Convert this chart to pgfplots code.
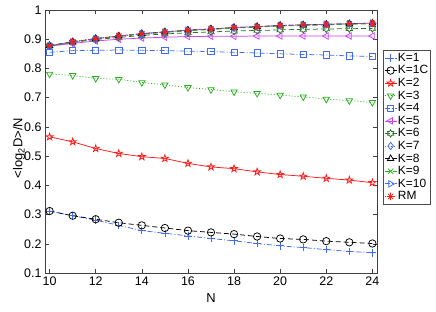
\documentclass[border=0pt]{standalone}
\usepackage{fontspec}
\setmainfont{Liberation Sans}
\usepackage{pgfplots}
\pgfplotsset{compat=1.18}
\usetikzlibrary{plotmarks}
\definecolor{cblue}{rgb}{0.25,0.42,0.95}
\definecolor{cgreen}{rgb}{0.15,0.68,0.1}
\definecolor{cmag}{rgb}{0.8,0.25,1}
\definecolor{cdgreen}{rgb}{0.15,0.45,0.15}
\definecolor{cred}{rgb}{1,0.1,0.1}
\makeatletter
\pgfdeclareplotmark{pentagram}{%
  \pgfpathmoveto{\pgfqpointpolar{90}{\pgfplotmarksize}}%
  \pgfpathlineto{\pgfqpointpolar{126}{0.382\pgfplotmarksize}}%
  \pgfpathlineto{\pgfqpointpolar{162}{\pgfplotmarksize}}%
  \pgfpathlineto{\pgfqpointpolar{198}{0.382\pgfplotmarksize}}%
  \pgfpathlineto{\pgfqpointpolar{234}{\pgfplotmarksize}}%
  \pgfpathlineto{\pgfqpointpolar{270}{0.382\pgfplotmarksize}}%
  \pgfpathlineto{\pgfqpointpolar{306}{\pgfplotmarksize}}%
  \pgfpathlineto{\pgfqpointpolar{342}{0.382\pgfplotmarksize}}%
  \pgfpathlineto{\pgfqpointpolar{18}{\pgfplotmarksize}}%
  \pgfpathlineto{\pgfqpointpolar{54}{0.382\pgfplotmarksize}}%
  \pgfpathclose\pgfusepathqstroke}
\pgfdeclareplotmark{hexagram}{%
  \pgfpathmoveto{\pgfqpointpolar{90}{\pgfplotmarksize}}%
  \pgfpathlineto{\pgfqpointpolar{120}{0.577\pgfplotmarksize}}%
  \pgfpathlineto{\pgfqpointpolar{150}{\pgfplotmarksize}}%
  \pgfpathlineto{\pgfqpointpolar{180}{0.577\pgfplotmarksize}}%
  \pgfpathlineto{\pgfqpointpolar{210}{\pgfplotmarksize}}%
  \pgfpathlineto{\pgfqpointpolar{240}{0.577\pgfplotmarksize}}%
  \pgfpathlineto{\pgfqpointpolar{270}{\pgfplotmarksize}}%
  \pgfpathlineto{\pgfqpointpolar{300}{0.577\pgfplotmarksize}}%
  \pgfpathlineto{\pgfqpointpolar{330}{\pgfplotmarksize}}%
  \pgfpathlineto{\pgfqpointpolar{0}{0.577\pgfplotmarksize}}%
  \pgfpathlineto{\pgfqpointpolar{30}{\pgfplotmarksize}}%
  \pgfpathlineto{\pgfqpointpolar{60}{0.577\pgfplotmarksize}}%
  \pgfpathclose\pgfusepathqstroke}
\pgfdeclareplotmark{star8}{%
  \pgfpathmoveto{\pgfqpoint{-\pgfplotmarksize}{0pt}}\pgfpathlineto{\pgfqpoint{\pgfplotmarksize}{0pt}}%
  \pgfpathmoveto{\pgfqpoint{0pt}{-\pgfplotmarksize}}\pgfpathlineto{\pgfqpoint{0pt}{\pgfplotmarksize}}%
  \pgfpathmoveto{\pgfqpoint{-0.707\pgfplotmarksize}{-0.707\pgfplotmarksize}}\pgfpathlineto{\pgfqpoint{0.707\pgfplotmarksize}{0.707\pgfplotmarksize}}%
  \pgfpathmoveto{\pgfqpoint{-0.707\pgfplotmarksize}{0.707\pgfplotmarksize}}\pgfpathlineto{\pgfqpoint{0.707\pgfplotmarksize}{-0.707\pgfplotmarksize}}%
  \pgfusepathqstroke}
\makeatother
\pgfplotstableread{
N K1 K1C K2 K3 K4 K5 K6 K7 K8 K9 K10 RM
10 0.312 0.312 0.566 0.781 0.855 0.876 0.877 0.878 0.878 0.877 0.878 0.878
11 0.296 0.296 0.549 0.776 0.861 0.886 0.889 0.891 0.891 0.890 0.891 0.891
12 0.281 0.284 0.526 0.766 0.862 0.894 0.899 0.902 0.902 0.901 0.902 0.902
13 0.263 0.272 0.509 0.763 0.863 0.900 0.906 0.911 0.911 0.910 0.911 0.911
14 0.245 0.263 0.498 0.752 0.862 0.904 0.913 0.919 0.919 0.917 0.919 0.919
15 0.236 0.254 0.492 0.744 0.861 0.907 0.918 0.925 0.925 0.923 0.925 0.925
16 0.227 0.245 0.475 0.735 0.859 0.909 0.922 0.931 0.931 0.929 0.931 0.931
17 0.218 0.239 0.463 0.728 0.858 0.910 0.925 0.935 0.935 0.933 0.935 0.935
18 0.210 0.233 0.457 0.720 0.855 0.910 0.928 0.940 0.940 0.938 0.940 0.940
19 0.201 0.225 0.446 0.715 0.853 0.911 0.930 0.943 0.943 0.941 0.943 0.943
20 0.193 0.218 0.437 0.709 0.850 0.911 0.932 0.947 0.947 0.945 0.947 0.947
21 0.187 0.215 0.431 0.703 0.848 0.911 0.934 0.949 0.949 0.947 0.949 0.949
22 0.180 0.209 0.424 0.695 0.846 0.911 0.935 0.951 0.951 0.949 0.951 0.951
23 0.174 0.205 0.418 0.690 0.843 0.911 0.936 0.953 0.953 0.951 0.953 0.953
24 0.169 0.201 0.409 0.684 0.841 0.911 0.937 0.955 0.955 0.953 0.955 0.955
}\data
\tikzset{
  dashdot/.style={dash pattern=on 5bp off 2bp on 1bp off 2bp},
  mdashed/.style={dash pattern=on 5bp off 3bp},
  mdotted/.style={dash pattern=on 1bp off 2bp},
}
\begin{document}
\begin{tikzpicture}
\begin{axis}[
  scale only axis, width=332bp, height=263bp,
  at={(0,0)}, anchor=south west,
  xmin=9.8, xmax=24.2, ymin=0.1, ymax=1,
  xtick={10,12,...,24},
  xticklabels={10,12,14,16,18,20,22,24},
  ytick={0.1,0.2,0.3,0.4,0.5,0.6,0.7,0.8,0.9,1},
  yticklabels={0.1,0.2,0.3,0.4,0.5,0.6,0.7,0.8,0.9,1},
  /pgf/number format/assume math mode=true,
  tick align=inside, tick pos=both,
  major tick length=4bp,
  axis line style={line width=0.6pt, black!75},
  tick style={line width=0.5pt, black!75},
  tick label style={font=\fontsize{12.5}{14}\selectfont},
  label style={font=\fontsize{13}{14}\selectfont},
  xlabel={N},
  ylabel={<log\textsubscript{2}D>/N},
  xlabel style={at={(axis description cs:0.5,-0.095)}, anchor=center},
  ylabel style={at={(axis description cs:-0.078,0.475)}, anchor=center, rotate=0},
  every axis plot/.append style={line width=0.75pt},
  mark size=3.7bp,
  legend style={at={(axis description cs:1.018,0.848)}, anchor=north west,
    font=\fontsize{12}{13}\selectfont, draw=black!70, line width=0.5pt,
    inner xsep=1pt, inner ysep=1.5pt, row sep=0pt,
    cells={anchor=west}, nodes={inner xsep=1pt, inner ysep=1.4pt}},
  legend image code/.code={\draw[mark repeat=2,mark phase=2] plot coordinates {(0bp,0bp) (6bp,0bp) (12bp,0bp)};},
]
\addplot[cblue, dashdot, mark=+, mark options={solid}] table[x=N,y=K1]{\data};
\addlegendentry{K=1}
\addplot[black, mdashed, mark=o, mark options={solid}] table[x=N,y=K1C]{\data};
\addlegendentry{K=1C}
\addplot[cred, solid, mark=pentagram, mark options={solid}] table[x=N,y=K2]{\data};
\addlegendentry{K=2}
\addplot[cgreen, mdotted, mark=triangle, mark options={solid, rotate=180}] table[x=N,y=K3]{\data};
\addlegendentry{K=3}
\addplot[cblue, dashdot, mark=square, mark options={solid, scale=0.85}] table[x=N,y=K4]{\data};
\addlegendentry{K=4}
\addplot[cmag, solid, mark=triangle, mark options={solid, rotate=90}] table[x=N,y=K5]{\data};
\addlegendentry{K=5}
\addplot[cdgreen, mdashed, mark=hexagram, mark options={solid}] table[x=N,y=K6]{\data};
\addlegendentry{K=6}
\addplot[cblue, mdotted, mark=diamond, mark options={solid}] table[x=N,y=K7]{\data};
\addlegendentry{K=7}
\addplot[black, mdashed, mark=triangle, mark options={solid}] table[x=N,y=K8]{\data};
\addlegendentry{K=8}
\addplot[cgreen, mdashed, mark=x, mark options={solid}] table[x=N,y=K9]{\data};
\addlegendentry{K=9}
\addplot[cblue, dashdot, mark=triangle, mark options={solid, rotate=-90}] table[x=N,y=K10]{\data};
\addlegendentry{K=10}
\addplot[cred, mdotted, mark=star8, mark options={solid}] table[x=N,y=RM]{\data};
\addlegendentry{RM}
\end{axis}
\pgfresetboundingbox
\path[use as bounding box] (-45bp,-39bp) rectangle (391bp,273bp);
\end{tikzpicture}
\end{document}
